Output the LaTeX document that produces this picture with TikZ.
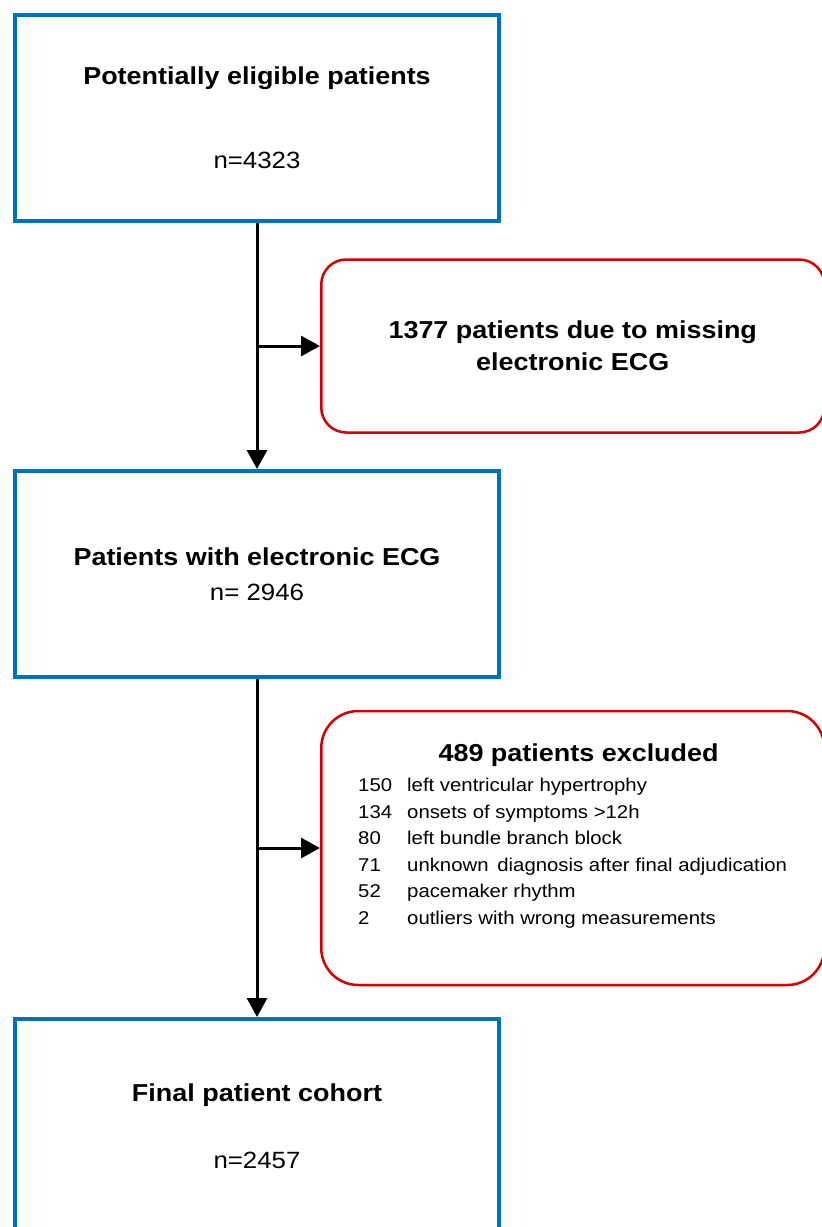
\documentclass[tikz,border=0pt]{standalone}
\usepackage{fontspec}
\setmainfont{Liberation Sans}[FakeStretch=1.1]
\usepackage{tikz}
\usetikzlibrary{arrows.meta,positioning}
\definecolor{stageblue}{HTML}{0070C0}
\definecolor{exclred}{HTML}{D40000}

\begin{document}
\begin{tikzpicture}[>={Triangle[length=19pt,width=20pt]},
  stage/.style={rectangle, draw=stageblue, line width=4pt, minimum width=484pt, minimum height=206pt, align=center, font=\fontsize{24.5}{29}\selectfont},
  exclbox/.style={rectangle, rounded corners=25pt, draw=exclred, line width=2.5pt, minimum width=503pt, align=center, font=\fontsize{24.5}{29}\selectfont},
  flow/.style={line width=3pt, ->}]
  \useasboundingbox (0,0) rectangle (822pt,-1227pt);
  \node[stage] (elig) at (257pt,-118pt) {\textbf{Potentially eligible patients}\\[55pt]{\fontsize{23.5}{29}\selectfont n=4323}};
  \node[stage, below=246pt of elig] (ecg) {\textbf{Patients with electronic ECG}\\[6pt]{\fontsize{23.5}{29}\selectfont n= 2946}};
  \node[stage, minimum height=214pt, below=338pt of ecg] (final) {\textbf{Final patient cohort}\\[38pt]{\fontsize{23.5}{29}\selectfont n=2457}};
  % branch points on the main line
  \path (elig.south) -- coordinate[midway] (br1) (ecg.north);
  \path (ecg.south) -- coordinate[midway] (br2) (final.north);
  \node[exclbox, minimum height=173pt, right=63pt of br1] (miss) {\textbf{1377 patients due to missing}\\[3pt]\textbf{electronic ECG}};
  \node[exclbox, rounded corners=37pt, minimum height=274pt, right=63pt of br2] (reasons) {};
  \node[anchor=base west, inner sep=0pt, font=\fontsize{18.5}{26.5}\selectfont] (reasonlist) at ([xshift=38pt, yshift=-52pt]reasons.north west) {%
    \begin{tabular}[t]{@{}p{37pt}l@{}}
      \multicolumn{2}{c}{\hspace{12pt}\fontsize{24.5}{29}\selectfont\bfseries 489 patients excluded}\\[3.5pt]
      150 & left ventricular hypertrophy\\
      134 & onsets of symptoms >12h\\
      80  & left bundle branch block\\
      71  & unknown\, diagnosis after final adjudication\\
      52  & pacemaker rhythm\\
      2   & outliers with wrong measurements
    \end{tabular}};
  \draw[flow] (elig) -- (ecg);
  \draw[flow] (ecg) -- (final);
  \draw[flow] (br1) -- (miss.west);
  \draw[flow] (br2) -- (reasons.west);
\end{tikzpicture}
\end{document}
